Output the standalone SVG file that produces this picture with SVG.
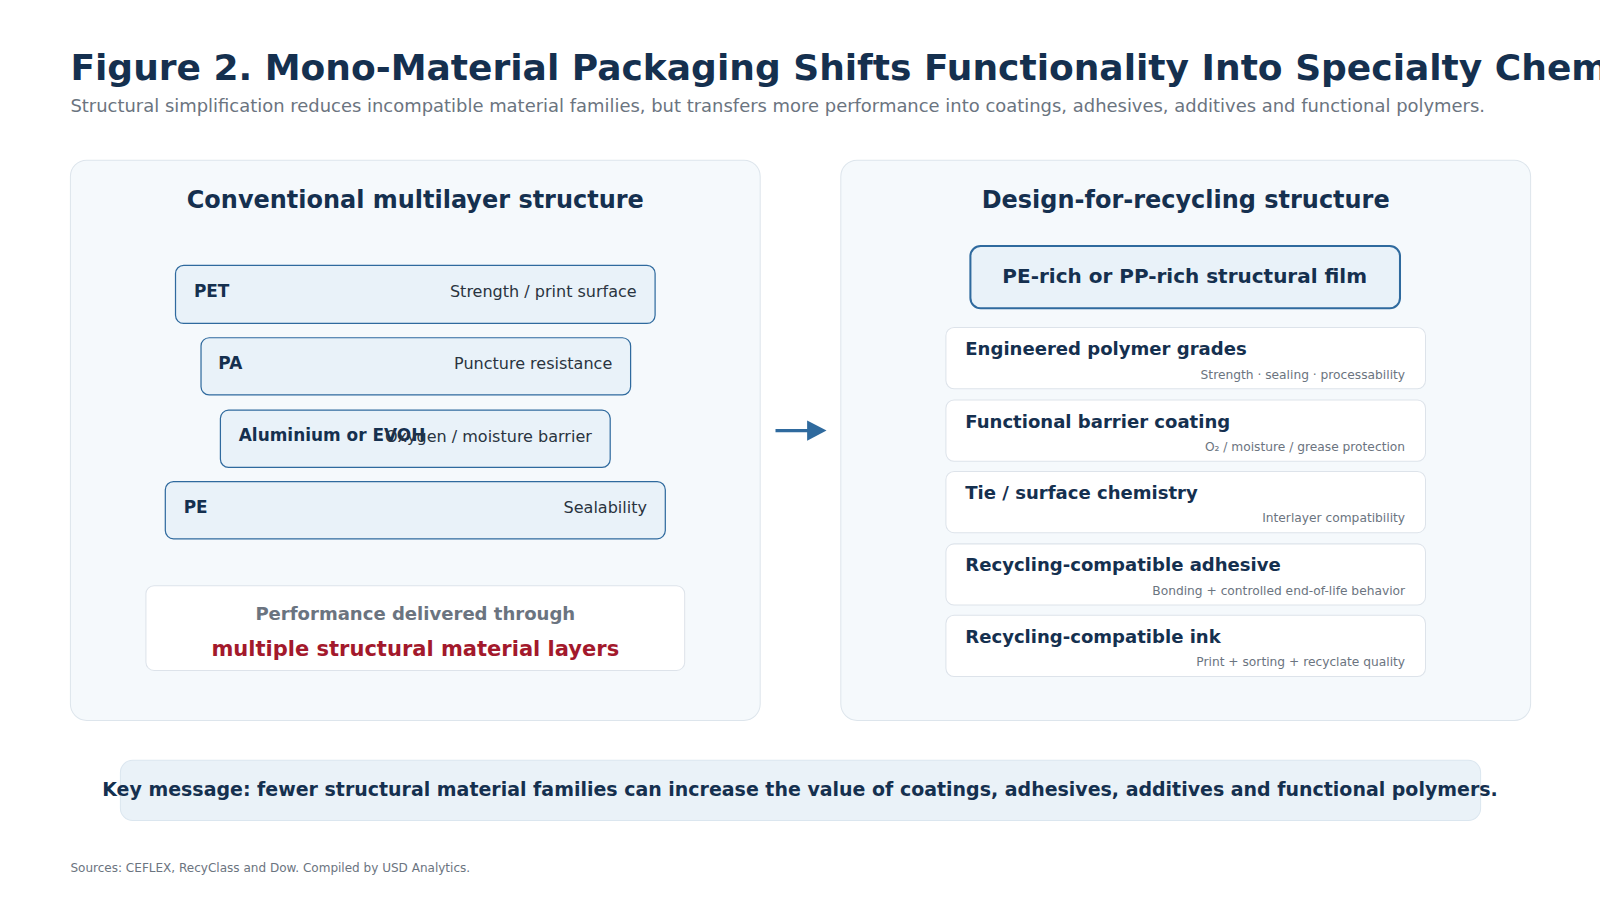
<svg xmlns="http://www.w3.org/2000/svg" width="1600" height="900" viewBox="0 0 1600 900">
<style>
text{font-family:"DejaVu Sans",Verdana,sans-serif}
.panel{fill:#f5f9fc;stroke:#dde5ec;stroke-width:1}
.layer{fill:#e9f2f9;stroke:#2f6a9e;stroke-width:1.2}
.lt{font-size:16.6px;font-weight:bold;fill:#15304f}
.ld{font-size:15.7px;fill:#2a3440;text-anchor:end}
.card{fill:#fff;stroke:#dde3ea;stroke-width:1}
.ct{font-size:17.7px;font-weight:bold;fill:#15304f}
.cs{font-size:12px;fill:#6b7480;text-anchor:end}
.ph{font-size:23.5px;font-weight:bold;fill:#15304f;text-anchor:middle}
</style>
<rect width="1600" height="900" fill="#fff"/>
<g transform="scale(1.0204)">
<text x="69" y="78" font-size="35.3" font-weight="bold" fill="#15304f">Figure 2. Mono-Material Packaging Shifts Functionality Into Specialty Chemicals</text>
<text x="69" y="110" font-size="17.6" fill="#6b7480">Structural simplification reduces incompatible material families, but transfers more performance into coatings, adhesives, additives and functional polymers.</text>
<g id="left-panel">
<rect class="panel" x="69" y="157" width="676" height="549" rx="16"/>
<text class="ph" x="407" y="204">Conventional multilayer structure</text>
</g>
<g id="layer-pet"><rect class="layer" x="172" y="260" width="470" height="57" rx="8"/><text class="lt" x="190" y="291">PET</text><text class="ld" x="624" y="291">Strength / print surface</text></g>
<g id="layer-pa"><rect class="layer" x="197" y="331" width="421" height="56" rx="8"/><text class="lt" x="214" y="362">PA</text><text class="ld" x="600" y="362">Puncture resistance</text></g>
<g id="layer-al"><rect class="layer" x="216" y="402" width="382" height="56" rx="8"/><text class="lt" x="234" y="432">Aluminium or EVOH</text><text class="ld" x="580" y="433">Oxygen / moisture barrier</text></g>
<g id="layer-pe"><rect class="layer" x="162" y="472" width="490" height="56" rx="8"/><text class="lt" x="180" y="503">PE</text><text class="ld" x="634" y="503">Sealability</text></g>
<g id="performance"><rect x="143" y="574" width="528" height="83" rx="8" fill="#fff" stroke="#dde3ea"/>
<text x="407" y="608" font-size="17.7" font-weight="bold" fill="#6b7480" text-anchor="middle">Performance delivered through</text>
<text x="407" y="643" font-size="20.6" font-weight="bold" fill="#a3192c" text-anchor="middle">multiple structural material layers</text></g>
<g id="connectors"><line x1="760" y1="422" x2="794" y2="422" stroke="#2f6a9e" stroke-width="3"/><polygon points="791,412 810,422 791,432" fill="#2f6a9e"/></g>
<g id="right-panel">
<rect class="panel" x="824" y="157" width="676" height="549" rx="16"/>
<text class="ph" x="1162" y="204">Design-for-recycling structure</text>
</g>
<g id="film"><rect x="951" y="241" width="421" height="61" rx="10" fill="#e9f2f9" stroke="#2f6a9e" stroke-width="2"/><text x="1161" y="277" font-size="19.6" font-weight="bold" fill="#15304f" text-anchor="middle">PE-rich or PP-rich structural film</text></g>
<g id="card1"><rect class="card" x="927" y="321" width="470" height="60" rx="8"/><text class="ct" x="946" y="348">Engineered polymer grades</text><text class="cs" x="1377" y="371">Strength · sealing · processability</text></g>
<g id="card2"><rect class="card" x="927" y="392" width="470" height="60" rx="8"/><text class="ct" x="946" y="419">Functional barrier coating</text><text class="cs" x="1377" y="442">O₂ / moisture / grease protection</text></g>
<g id="card3"><rect class="card" x="927" y="462" width="470" height="60" rx="8"/><text class="ct" x="946" y="489">Tie / surface chemistry</text><text class="cs" x="1377" y="512">Interlayer compatibility</text></g>
<g id="card4"><rect class="card" x="927" y="533" width="470" height="60" rx="8"/><text class="ct" x="946" y="560">Recycling-compatible adhesive</text><text class="cs" x="1377" y="583">Bonding + controlled end-of-life behavior</text></g>
<g id="card5"><rect class="card" x="927" y="603" width="470" height="60" rx="8"/><text class="ct" x="946" y="630">Recycling-compatible ink</text><text class="cs" x="1377" y="653">Print + sorting + recyclate quality</text></g>
<g id="key"><rect x="118" y="745" width="1333" height="59" rx="12" fill="#eaf2f8" stroke="#dbe6ef"/><text x="784" y="780" font-size="18.6" font-weight="bold" fill="#15304f" text-anchor="middle">Key message: fewer structural material families can increase the value of coatings, adhesives, additives and functional polymers.</text></g>
<text x="69" y="855" font-size="11.8" fill="#6b7480">Sources: CEFLEX, RecyClass and Dow. Compiled by USD Analytics.</text>
</g>
</svg>
